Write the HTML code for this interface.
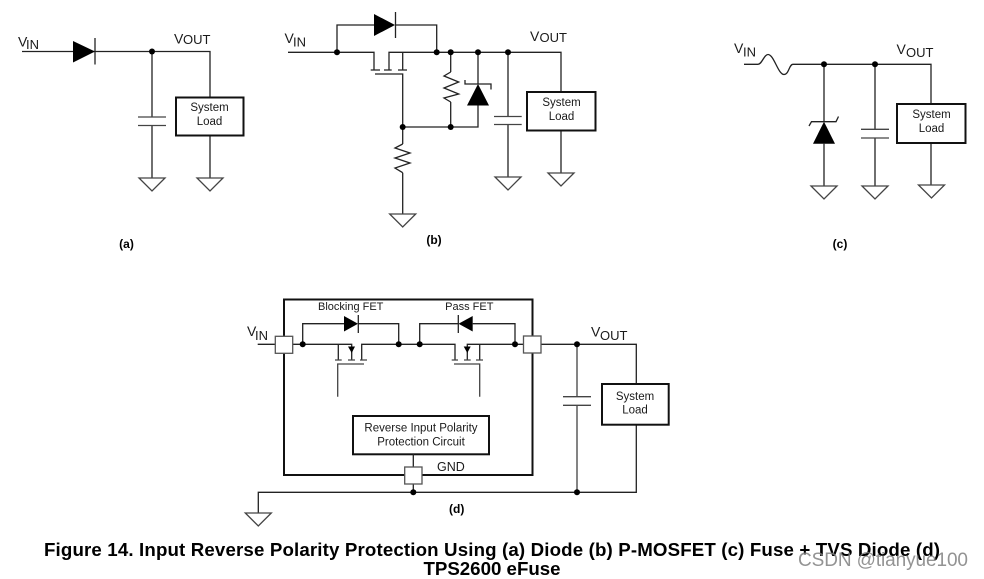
<!DOCTYPE html>
<html><head><meta charset="utf-8"><style>
html,body{margin:0;padding:0;background:#fff;width:984px;height:579px;overflow:hidden}
svg{display:block}
text{font-family:"Liberation Sans",sans-serif;fill:#1a1a1a}
.l{font-size:11.5px;text-anchor:middle}
.v{font-size:14px}
.s{font-size:13px}
.b{font-size:12px;font-weight:bold;text-anchor:middle;fill:#000}
.w{fill:none;stroke:#222;stroke-width:1.3}
.g{fill:none;stroke:#444;stroke-width:1.3}
.t{fill:#fff;stroke:#111;stroke-width:2}
.p{fill:#fff;stroke:#555;stroke-width:1.3}
</style></head><body>
<svg width="984" height="579" viewBox="0 0 984 579" xmlns="http://www.w3.org/2000/svg">
<defs>
<path id="gnd" class="g" d="M-13 0H13L0 13Z"/>
<circle id="dot" r="3" fill="#000"/>
</defs>

<!-- (a) -->
<path class="w" d="M22 51.500H210V97M152 51.500V117M152 125.500V178M210 135V178"/>
<path fill="#000" d="M73 41V62.500L95 51.500Z"/>
<path class="w" d="M95 38V64.500"/>
<path class="g" d="M138 117H166M138 125.500H166"/>
<use href="#dot" x="152" y="51.500"/>
<use href="#gnd" x="152" y="178"/><use href="#gnd" x="210" y="178"/>
<rect class="t" x="176" y="97.500" width="67.500" height="38"/>
<text class="l" x="209.500" y="111">System</text><text class="l" x="209.500" y="125">Load</text>
<text class="v" x="18" y="46.500">V</text><text class="s" x="26" y="49">IN</text>
<text class="v" x="174" y="43.500">V</text><text class="s" x="183" y="44">OUT</text>
<text class="b" x="126.500" y="248">(a)</text>

<!-- (b) -->
<path class="w" d="M288 52.300H374V70M337 52.300V25H374M395.500 25H436.700V52.300M389 70V52.300H561V92M402.700 52.300V70M370.700 70H380M384 70H391.700M398 70H407M375 74H402.700V144M402.700 172.700V214M402.700 127H478V105M478 52.300V84M450.700 52.300V72M450.700 102V127M508 52.300V116.500M508 124.500V177M561 130V173"/>
<path fill="#000" d="M374 14V36L395 25Z"/>
<path class="w" d="M395.500 12V38"/>
<path class="w" d="M450.700 72L444 76L458.700 82L444 88L458.700 94L444 98L450.700 102"/>
<path class="w" d="M402.700 144L395 148L410 153L395 158L410 163L395 168L402.700 172.700"/>
<path fill="#000" d="M478 84L467 105.500H489Z"/>
<path class="w" d="M465 80V84H491V89.500"/>
<path class="g" d="M494 116.500H521.700M494 124.500H521.700"/>
<use href="#dot" x="337" y="52.300"/><use href="#dot" x="436.700" y="52.300"/><use href="#dot" x="450.700" y="52.300"/><use href="#dot" x="478" y="52.300"/><use href="#dot" x="508" y="52.300"/><use href="#dot" x="402.700" y="127"/><use href="#dot" x="450.700" y="127"/>
<use href="#gnd" x="402.700" y="214"/><use href="#gnd" x="508" y="177"/><use href="#gnd" x="561" y="173"/>
<rect class="t" x="527" y="92" width="68.500" height="38.500"/>
<text class="l" x="561.500" y="106">System</text><text class="l" x="561.500" y="120">Load</text>
<text class="v" x="284.500" y="43">V</text><text class="s" x="293" y="46.500">IN</text>
<text class="v" x="530" y="41">V</text><text class="s" x="539.500" y="42">OUT</text>
<text class="b" x="434" y="244">(b)</text>

<!-- (c) -->
<path class="w" d="M744 64.300H758C762 64.300 764 54.500 768 54.500C774 54.500 778 74.500 784 74.500C789 74.500 789 64.300 793 64.300H931V104M824 64.300V121.700M824 143.700V186M875 64.300V129.300M875 138V186M931 143V185"/>
<path fill="#000" d="M824 121.700L813 143.700H835Z"/>
<path class="w" d="M809 126L811.500 121.700H836L838.500 116.500"/>
<path class="g" d="M861 129.300H889M861 138H889"/>
<use href="#dot" x="824" y="64.300"/><use href="#dot" x="875" y="64.300"/>
<use href="#gnd" x="824" y="186"/><use href="#gnd" x="875" y="186"/><use href="#gnd" x="931.500" y="185"/>
<rect class="t" x="897" y="104" width="68.500" height="39"/>
<text class="l" x="931.500" y="118">System</text><text class="l" x="931.500" y="132">Load</text>
<text class="v" x="734" y="53">V</text><text class="s" x="743" y="56.500">IN</text>
<text class="v" x="896.500" y="54">V</text><text class="s" x="906" y="57">OUT</text>
<text class="b" x="840" y="248">(c)</text>

<!-- (d) -->
<rect x="284" y="299.500" width="248.500" height="175.500" fill="none" stroke="#111" stroke-width="2"/>
<path class="w" d="M257.700 344.300H351.700V360M338.300 344.300V360M302.700 344.300V323.700H344M358.300 323.700H398.700V344.300M361.700 360V344.300H455V360M419.700 344.300V323.700H458M472.700 323.700H515V344.300M467.300 360V344.300H524M479.700 344.300V360"/>
<path fill="#000" d="M344 316V331.500L358 323.700Z"/><path class="w" d="M358.300 315V333"/>
<path fill="#000" d="M472.700 316V331.500L458.500 323.700Z"/><path class="w" d="M458.300 315V333"/>
<path fill="#000" d="M348 346.500H355L351.700 353Z"/><path fill="#000" d="M463.700 346.500H470.700L467.300 353Z"/>
<path class="g" d="M335 360H341.700M348 360H355M360 360H367M337.700 396.700V364H364M451.700 360H458M464 360H470.700M476 360H483M454 364H479.700V396.700"/>
<use href="#dot" x="302.700" y="344.300"/><use href="#dot" x="398.700" y="344.300"/><use href="#dot" x="419.700" y="344.300"/><use href="#dot" x="515" y="344.300"/>
<rect class="t" x="353" y="416" width="136" height="38.300"/>
<text class="l" x="421" y="431.700">Reverse Input Polarity</text><text class="l" x="421" y="445.700">Protection Circuit</text>
<path class="w" d="M413.300 454V467M413.300 484V492.300M258.300 513V492.300H636.300V344.300H541"/>
<path d="M577 344.300V396.700M577 405.300V492.300" fill="none" stroke="#777" stroke-width="1.800"/>
<path class="g" d="M563 396.700H591M563 405.300H591"/>
<rect class="p" x="275.300" y="336.300" width="17.400" height="17"/>
<rect class="p" x="523.500" y="336" width="17.500" height="17"/>
<rect class="p" x="404.700" y="467" width="17.300" height="17"/>
<use href="#dot" x="413.300" y="492.300"/><use href="#dot" x="577" y="344.300"/><use href="#dot" x="577" y="492.300"/>
<use href="#gnd" x="258.300" y="513"/>
<rect class="t" x="602" y="384" width="66.700" height="40.700"/>
<text class="l" x="635" y="400">System</text><text class="l" x="635" y="413.500">Load</text>
<text class="l" x="350.700" y="310" style="font-size:11px">Blocking FET</text>
<text class="l" x="469.300" y="310" style="font-size:11px">Pass FET</text>
<text x="437" y="471" style="font-size:12.500px">GND</text>
<text class="v" x="247" y="336">V</text><text class="s" x="255" y="340">IN</text>
<text class="v" x="591" y="336.700">V</text><text class="s" x="600" y="340">OUT</text>
<text class="b" x="456.700" y="513">(d)</text>

<!-- caption -->
<text x="44" y="556" textLength="896" lengthAdjust="spacing" style="font-size:18.700px;font-weight:bold;fill:#000">Figure 14. Input Reverse Polarity Protection Using (a) Diode (b) P-MOSFET (c) Fuse + TVS Diode (d)</text>
<text x="492" y="575" text-anchor="middle" style="font-size:18.700px;font-weight:bold;fill:#000">TPS2600 eFuse</text>
<text x="798" y="566" textLength="170" lengthAdjust="spacing" style="font-size:19px;fill:#808080;fill-opacity:.85">CSDN @tianyue100</text>
</svg>
</body></html>
